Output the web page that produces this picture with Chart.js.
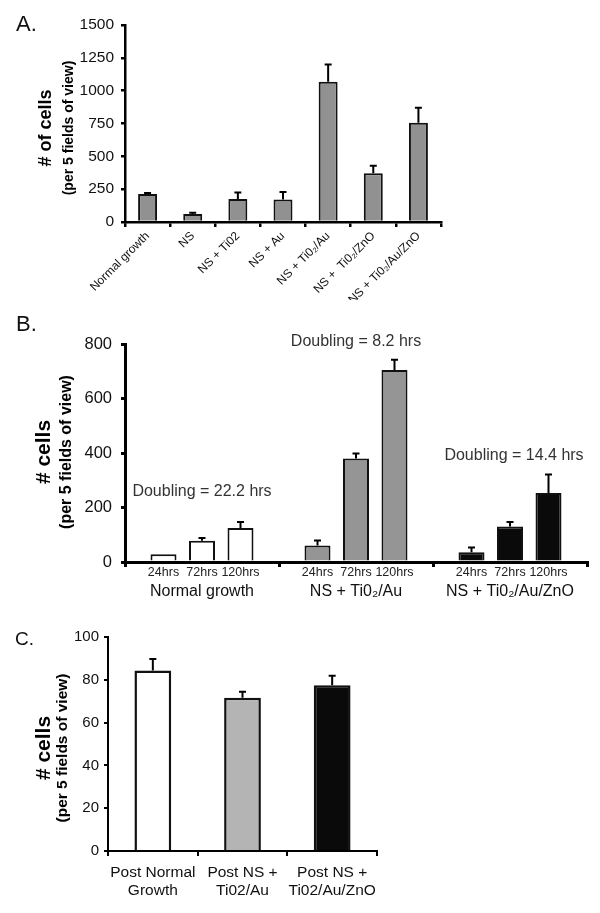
<!DOCTYPE html>
<html>
<head>
<meta charset="utf-8">
<script src="https://cdn.jsdelivr.net/npm/chart.js@4.4.1/dist/chart.umd.min.js"></script>
<style>
  html, body { margin: 0; padding: 0; background: #fff; }
  #wrap { position: relative; width: 600px; height: 913px; overflow: hidden; }
  canvas { position: absolute; left: 0; }
  .lbl { position: absolute; font-family: "Liberation Sans", Arial, sans-serif; color: #111; line-height: 1; }
</style>
</head>
<body>
<div id="wrap">
  <canvas id="cA" width="600" height="300" style="top:0px"></canvas>
  <canvas id="cB" width="600" height="300" style="top:300px"></canvas>
  <canvas id="cC" width="600" height="313" style="top:600px"></canvas>
  <div class="lbl" style="left:16px;top:13px;font-size:22px;">A.</div>
  <div class="lbl" style="left:16px;top:313px;font-size:22px;">B.</div>
  <div class="lbl" style="left:15px;top:629px;font-size:19px;">C.</div>
</div>
<script>
// ---------- Panel A data ----------
const catsA = ['Normal growth', 'NS', 'NS + Ti02', 'NS + Au', 'NS + Ti0\u2082/Au', 'NS +  Ti0\u2082/ZnO', 'NS + Ti0\u2082/Au/ZnO'];
const valsA = [213, 60, 175, 172, 1068, 371, 756];
const errA  = [8, 10, 50, 57, 132, 58, 114];
const ticksA = [0, 250, 500, 750, 1000, 1250, 1500];

// ---------- Panel B data ----------
const groupsB = ['Normal growth', 'NS + Ti0\u2082/Au', 'NS + Ti0\u2082/Au/ZnO'];
const timesB  = ['24hrs', '72hrs', '120hrs'];
const valsB24  = [28, 61, 36];
const errB24   = [0, 18, 17];
const valsB72  = [78, 380, 130];
const errB72   = [10, 18, 17];
const valsB120 = [125, 705, 253];
const errB120  = [22, 37, 68];
const ticksB = [0, 200, 400, 600, 800];
const notesB = ['Doubling = 22.2 hrs', 'Doubling = 8.2 hrs', 'Doubling = 14.4 hrs'];

// ---------- Panel C data ----------
const catsC = [['Post Normal', 'Growth'], ['Post NS +', 'Ti02/Au'], ['Post NS +', 'Ti02/Au/ZnO']];
const valsC = [84.3, 71.6, 77.5];
const errC  = [5.4, 2.8, 4.4];
const ticksC = [0, 20, 40, 60, 80, 100];

const FAM = '"Liberation Sans", Arial, sans-serif';
Chart.defaults.font.family = FAM;
Chart.defaults.color = '#111';

const errorBars = {
  id: 'errorBars',
  afterDatasetsDraw(chart, args, o) {
    const ctx = chart.ctx, ys = chart.scales.y;
    chart.data.datasets.forEach((ds, di) => {
      const meta = chart.getDatasetMeta(di);
      meta.data.forEach((el, i) => {
        const e = ds.errors ? ds.errors[i] : 0;
        if (!e) return;
        const top = ys.getPixelForValue(ds.data[i] + e);
        ctx.save();
        ctx.strokeStyle = '#000';
        ctx.lineWidth = o.width;
        ctx.beginPath();
        ctx.moveTo(el.x, el.y);
        ctx.lineTo(el.x, top);
        ctx.moveTo(el.x - o.cap, top);
        ctx.lineTo(el.x + o.cap, top);
        ctx.stroke();
        ctx.restore();
      });
    });
  }
};

const yTitles = {
  id: 'yTitles',
  afterDraw(chart, args, o) {
    const ctx = chart.ctx;
    [[o.t1, o.s1, o.x1], [o.t2, o.s2, o.x2]].forEach(([t, s, x]) => {
      ctx.save();
      ctx.fillStyle = '#000';
      ctx.textAlign = 'center';
      ctx.textBaseline = 'middle';
      ctx.translate(x, o.y);
      ctx.rotate(-Math.PI / 2);
      ctx.font = 'bold ' + s + 'px ' + FAM;
      ctx.fillText(t, 0, 0);
      ctx.restore();
    });
  }
};

const bNotes = {
  id: 'bNotes',
  afterDraw(chart, args, o) {
    if (!o.enabled) return;
    const ctx = chart.ctx, xs = chart.scales.x, ys = chart.scales.y;
    ctx.save();
    ctx.fillStyle = '#222';
    ctx.textAlign = 'center';
    ctx.textBaseline = 'middle';
    ctx.font = '12.5px ' + FAM;
    chart.data.datasets.forEach((ds, di) => {
      chart.getDatasetMeta(di).data.forEach(el => {
        ctx.fillText(ds.label, el.x, chart.chartArea.bottom + 11);
      });
    });
    ctx.font = '16px ' + FAM;
    ctx.fillStyle = '#333';
    notesB.forEach((t, i) => {
      ctx.fillText(t, xs.getPixelForValue(i) + o.dx[i], ys.getPixelForValue(o.at[i]));
    });
    ctx.restore();
  }
};

Chart.register(errorBars, yTitles, bNotes);

function yScale(ticks, max, w, size, pad, lw) {
  return {
    min: 0, max: max,
    afterBuildTicks: s => { s.ticks = ticks.map(v => ({ value: v })); },
    afterFit: s => { s.width = w; },
    ticks: { color: '#111', font: { size: size }, padding: pad, callback: v => String(v) },
    grid: { drawOnChartArea: false, color: '#000', lineWidth: lw, tickLength: 4 },
    border: { color: '#000', width: lw }
  };
}

// ---------- Chart A ----------
new Chart(document.getElementById('cA'), {
  type: 'bar',
  data: {
    labels: catsA,
    datasets: [{
      data: valsA, errors: errA,
      backgroundColor: '#919191', borderColor: '#111', borderWidth: 2,
      barPercentage: 0.42, categoryPercentage: 1
    }]
  },
  options: {
    responsive: false, animation: false, devicePixelRatio: 1,
    layout: { padding: { top: 25, right: 159, left: 0, bottom: 0 } },
    plugins: {
      legend: { display: false }, tooltip: { enabled: false },
      errorBars: { width: 2, cap: 3.5 },
      yTitles: { t1: '# of cells', s1: 18, x1: 46, t2: '(per 5 fields of view)', s2: 14, x2: 69, y: 128 },
      bNotes: { enabled: false }
    },
    scales: {
      x: {
        afterFit: s => { s.height = 78; },
        ticks: { color: '#111', font: { size: 12 }, minRotation: 45, maxRotation: 45, autoSkip: false, padding: 2 },
        grid: { offset: true, drawOnChartArea: false, color: '#000', lineWidth: 2.5, tickLength: 5 },
        border: { color: '#000', width: 2.5 }
      },
      y: yScale(ticksA, 1500, 125, 15.5, 7, 2.5)
    }
  }
});

// ---------- Chart B ----------
const bColors = ['#ffffff', '#959595', '#0a0a0a'];
new Chart(document.getElementById('cB'), {
  type: 'bar',
  data: {
    labels: groupsB,
    datasets: [
      { label: timesB[0], data: valsB24, errors: errB24 },
      { label: timesB[1], data: valsB72, errors: errB72 },
      { label: timesB[2], data: valsB120, errors: errB120 }
    ].map(d => Object.assign(d, {
      backgroundColor: bColors, borderColor: '#111', borderWidth: 2,
      barPercentage: 0.675, categoryPercentage: 0.75
    }))
  },
  options: {
    responsive: false, animation: false, devicePixelRatio: 1,
    layout: { padding: { top: 44, right: 13, left: 0, bottom: 0 } },
    plugins: {
      legend: { display: false }, tooltip: { enabled: false },
      errorBars: { width: 2, cap: 3.5 },
      yTitles: { t1: '# cells', s1: 21, x1: 44, t2: '(per 5 fields of view)', s2: 16, x2: 67, y: 152 },
      bNotes: { enabled: true, at: [259, 808, 391], dx: [0, 0, 4] }
    },
    scales: {
      x: {
        afterFit: s => { s.height = 38; },
        ticks: { color: '#111', font: { size: 16 }, padding: 15, autoSkip: false, maxRotation: 0 },
        grid: { offset: true, drawOnChartArea: false, color: '#000', lineWidth: 3, tickLength: 5 },
        border: { color: '#000', width: 3 }
      },
      y: yScale(ticksB, 800, 125, 16.5, 9, 3)
    }
  }
});

// ---------- Chart C ----------
new Chart(document.getElementById('cC'), {
  type: 'bar',
  data: {
    labels: catsC,
    datasets: [{
      data: valsC, errors: errC,
      backgroundColor: ['#ffffff', '#b4b4b4', '#0a0a0a'], borderColor: '#111', borderWidth: 2.5,
      barPercentage: 0.41, categoryPercentage: 1
    }]
  },
  options: {
    responsive: false, animation: false, devicePixelRatio: 1,
    layout: { padding: { top: 37, right: 223, left: 0, bottom: 0 } },
    plugins: {
      legend: { display: false }, tooltip: { enabled: false },
      errorBars: { width: 2, cap: 3.5 },
      yTitles: { t1: '# cells', s1: 21, x1: 44, t2: '(per 5 fields of view)', s2: 15.5, x2: 63, y: 148 },
      bNotes: { enabled: false }
    },
    scales: {
      x: {
        afterFit: s => { s.height = 62; },
        ticks: { color: '#111', font: { size: 15.5 }, padding: 7, autoSkip: false, maxRotation: 0 },
        grid: { offset: true, drawOnChartArea: false, color: '#000', lineWidth: 2, tickLength: 5 },
        border: { color: '#000', width: 2 }
      },
      y: yScale(ticksC, 100, 108, 15, 5, 2)
    }
  }
});
</script>
</body>
</html>
